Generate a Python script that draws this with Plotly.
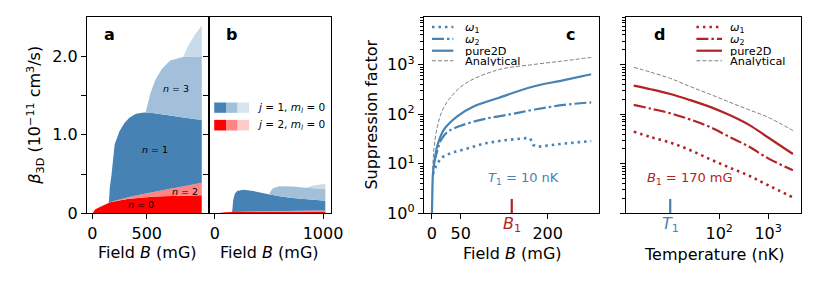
import plotly.graph_objects as go

# Page = 831x296 window; browser body keeps its default 8px margin, so the
# figure is 815x280 and reference pixel (X, Y) maps to figure pixel (X-8, Y-8).
W, H = 815, 280
OFF = 8
def px(x): return (x - OFF) / W
def py(y): return 1 - (y - OFF) / H

FONT = "DejaVu Sans"
BLUE = "#4682b4"
BLUE_MID = "#a2c0da"
BLUE_LIGHT = "#c8dbeb"
RED = "#ff0000"
RED_MID = "#ff8585"
FIRE = "#b22222"
GRAY = "#808080"

# ---------------- panel a : stacked beta_3D (cumulative tops) ----------------
B_a = [0, 25, 50, 100, 150, 153, 160, 175, 190, 205, 250, 295, 340, 400, 475, 490,
       505, 535, 580, 640, 715, 820, 835, 880, 940, 1006]
top_n0_a = [0, 0.048, 0.07, 0.105, 0.135, 0.136, 0.139, 0.145, 0.15, 0.155, 0.167, 0.177, 0.185,
            0.194, 0.204, 0.206, 0.208, 0.211, 0.215, 0.219, 0.223, 0.227, 0.227, 0.228, 0.229, 0.23]
top_n2_a = [0, 0.048, 0.07, 0.105, 0.137, 0.138, 0.142, 0.149, 0.156, 0.162, 0.18, 0.196, 0.21,
            0.228, 0.25, 0.254, 0.258, 0.266, 0.278, 0.294, 0.313, 0.34, 0.344, 0.356, 0.372, 0.39]
top_n1_a = [0, 0.048, 0.07, 0.105, 0.137, 0.16, 0.33, 0.48, 0.68, 0.88, 1.05, 1.15, 1.218,
            1.267, 1.283, 1.285, 1.284, 1.28, 1.273, 1.262, 1.245, 1.225, 1.222, 1.213, 1.202, 1.19]
top_n3_a = [0, 0.048, 0.07, 0.105, 0.137, 0.16, 0.33, 0.48, 0.68, 0.88, 1.05, 1.15, 1.218,
            1.267, 1.283, 1.285, 1.37, 1.535, 1.70, 1.84, 1.945, 1.99, 1.992, 1.995, 1.998, 2.0]
top_n5_a = [0, 0.048, 0.07, 0.105, 0.137, 0.16, 0.33, 0.48, 0.68, 0.88, 1.05, 1.15, 1.218,
            1.267, 1.283, 1.285, 1.37, 1.535, 1.70, 1.84, 1.945, 1.99, 1.992, 2.13, 2.27, 2.39]

# ---------------- panel b ----------------
B_b = [0, 50, 100, 160, 165, 170, 185, 206, 266, 357, 450, 500, 510, 538, 598, 719, 840, 850,
       900, 960, 1021]
top_n0_b = [0, 0.01, 0.014, 0.017, 0.017, 0.017, 0.018, 0.018, 0.019, 0.02, 0.021, 0.021, 0.021,
            0.022, 0.022, 0.023, 0.024, 0.024, 0.024, 0.025, 0.025]
top_n2_b = [0, 0.01, 0.014, 0.018, 0.018, 0.018, 0.019, 0.02, 0.022, 0.025, 0.027, 0.028, 0.028,
            0.029, 0.03, 0.032, 0.034, 0.034, 0.035, 0.036, 0.038]
top_n1_b = [0, 0.01, 0.014, 0.018, 0.1, 0.17, 0.25, 0.284, 0.30, 0.284, 0.255, 0.24, 0.238,
            0.232, 0.218, 0.196, 0.18, 0.179, 0.172, 0.166, 0.161]
top_n3_b = [0, 0.01, 0.014, 0.018, 0.1, 0.17, 0.25, 0.284, 0.30, 0.284, 0.255, 0.24, 0.27,
            0.32, 0.345, 0.343, 0.325, 0.325, 0.322, 0.318, 0.31]
top_n5_b = [0, 0.01, 0.014, 0.018, 0.1, 0.17, 0.25, 0.284, 0.30, 0.284, 0.255, 0.24, 0.27,
            0.32, 0.345, 0.343, 0.325, 0.33, 0.353, 0.365, 0.373]

# ---------------- panel c : suppression factor vs field ----------------
B_w1 = [2, 7.4, 15.7, 33, 61, 90, 124, 163, 170, 175, 183, 228, 275]
S_w1 = [6.2, 9, 13.2, 16.6, 20.4, 25.7, 29.9, 33, 32.4, 24, 22.1, 25.7, 28.8]
B_w2 = [4.5, 10, 15.7, 27, 50, 90, 135, 178, 228, 275]
S_w2 = [11, 19, 30, 44, 59, 80, 100, 125, 155, 174]
B_pure = [0.3, 1, 2, 4.5, 10, 21.5, 44, 73, 115, 172, 228, 275]
S_pure = [1, 2.5, 6.2, 11, 24, 50, 91, 145, 214, 355, 490, 645]
B_an = [0.8, 2, 4.5, 10, 18.7, 33, 58, 115, 172, 228, 275]
S_an = [2.5, 9.8, 24, 59, 123, 224, 420, 794, 1000, 1200, 1410]
B1_mark = 138
T1_label = "10 nK"

# ---------------- panel d : suppression factor vs temperature ----------------
T_d = [1.8, 4, 10, 25, 63, 158, 400, 1000, 3200]
S_d_w1 = [44.7, 34.7, 26.9, 19.1, 12.6, 8.5, 5.8, 3.7, 2.1]
S_d_w2 = [155, 130, 105, 79, 56, 35.5, 22.4, 12.9, 7.4]
S_d_pure = [380, 320, 257, 195, 143, 98, 62, 34, 15.8]
S_d_an = [891, 708, 531, 367, 257, 178, 124, 87, 47]
T1_mark = 10
B1_label = "170 mG"

fig = go.Figure()

def stack(xs, tops, colors, xa, ya):
    for i, (t, c) in enumerate(zip(tops, colors)):
        fig.add_trace(go.Scatter(x=xs, y=t, mode="lines", line=dict(width=0),
                                 fill="tozeroy" if i == 0 else "tonexty", fillcolor=c,
                                 xaxis=xa, yaxis=ya, showlegend=False, hoverinfo="skip"))

cols = [RED, RED_MID, BLUE, BLUE_MID, BLUE_LIGHT]
stack(B_a, [top_n0_a, top_n2_a, top_n1_a, top_n3_a, top_n5_a], cols, "x", "y")
stack(B_b, [top_n0_b, top_n2_b, top_n1_b, top_n3_b, top_n5_b], cols, "x2", "y2")

def line(x, y, color, width, dash, xa, ya, shape="spline"):
    fig.add_trace(go.Scatter(x=x, y=y, mode="lines",
                             line=dict(color=color, width=width, dash=dash, shape=shape),
                             xaxis=xa, yaxis=ya, showlegend=False, hoverinfo="skip"))

DOT = "2.5px,4px"
DASHDOT = "12px,3px,2.5px,3px"
DASH = "4px,2px"

line(B_an, S_an, GRAY, 1, DASH, "x3", "y3")
line(B_w1, S_w1, BLUE, 2.6, DOT, "x3", "y3", shape="linear")
line(B_w2, S_w2, BLUE, 2.2, DASHDOT, "x3", "y3")
line(B_pure, S_pure, BLUE, 2.2, "solid", "x3", "y3")
line([B1_mark, B1_mark], [1, 1.95], FIRE, 2.2, "solid", "x3", "y3", shape="linear")

line(T_d, S_d_an, GRAY, 1, DASH, "x4", "y4")
line(T_d, S_d_w1, FIRE, 2.6, DOT, "x4", "y4")
line(T_d, S_d_w2, FIRE, 2.2, DASHDOT, "x4", "y4")
line(T_d, S_d_pure, FIRE, 2.2, "solid", "x4", "y4")
line([T1_mark, T1_mark], [1, 1.95], BLUE, 2.2, "solid", "x4", "y4", shape="linear")

ax = dict(showline=True, linecolor="black", linewidth=1, mirror=True, ticks="outside",
          ticklen=5, tickwidth=1, tickcolor="black", showgrid=False, zeroline=False,
          tickfont=dict(size=16, color="black", family=FONT), fixedrange=True)
ydom = [py(221), py(17.3)]
half_minor = dict(ticks="outside", ticklen=5, tickwidth=1, tickcolor="black",
                  tickvals=[0.5, 1.5], showgrid=False)
log_minor = dict(ticks="outside", ticklen=2.5, tickwidth=0.8, tickcolor="black",
                 dtick="D1", showgrid=False)

fig.update_layout(
    width=W, height=H, autosize=False,
    margin=dict(l=0, r=0, t=0, b=0),
    paper_bgcolor="white", plot_bgcolor="white",
    font=dict(family=FONT, size=16, color="black"),
    showlegend=False,
    xaxis=dict(ax, domain=[px(88), px(212.3)], range=[-51.2, 1075.2], anchor="y",
               tickvals=[0, 500], ticktext=["0", "500"]),
    yaxis=dict(ax, domain=ydom, range=[0, 2.5], anchor="x",
               tickvals=[0, 1, 2], ticktext=["0", "1.0", "2.0"], minor=half_minor),
    xaxis2=dict(ax, domain=[px(212.3), px(336)], range=[-51.2, 1075.2], anchor="y2",
                tickvals=[0, 1000], ticktext=["0", "1000"]),
    yaxis2=dict(ax, domain=ydom, range=[0, 2.5], anchor="x2",
                tickvals=[0, 1, 2], showticklabels=False, minor=half_minor),
    xaxis3=dict(ax, domain=[px(430), px(608)], range=[-13.75, 288.75], anchor="y3",
                tickvals=[0, 50, 200], ticktext=["0", "50", "200"]),
    yaxis3=dict(ax, type="log", domain=ydom, range=[0, 3.965], anchor="x3",
                tickvals=[1, 10, 100, 1000],
                ticktext=["10<sup>0</sup>", "10<sup>1</sup>", "10<sup>2</sup>", "10<sup>3</sup>"],
                minor=log_minor),
    xaxis4=dict(ax, type="log", domain=[px(635), px(812.7)], range=[0.0925, 3.6675], anchor="y4",
                tickvals=[100, 1000], ticktext=["10<sup>2</sup>", "10<sup>3</sup>"]),
    yaxis4=dict(ax, type="log", domain=ydom, range=[0, 3.965], anchor="x4",
                tickvals=[1, 10, 100, 1000], showticklabels=False, minor=log_minor),
)

ann = []
def A(text, x, y, size=16, color="black", xanchor="center", yanchor="middle", angle=0,
      xref="paper", yref="paper", height=None):
    d = dict(text=text, x=x, y=y, xref=xref, yref=yref, showarrow=False,
             font=dict(size=size, color=color, family=FONT), xanchor=xanchor,
             yanchor=yanchor, textangle=angle, borderpad=0)
    if height:
        d["height"] = height
    ann.append(d)

# axis titles
A("Field <i>B</i> (mG)", px(150), py(262))
A("Field <i>B</i> (mG)", px(273), py(262))
A("Field <i>B</i> (mG)", px(520), py(263))
A("Temperature (nK)", px(725), py(264))
A("<i>β</i><sub>3D</sub> (10<sup>−11</sup> cm<sup>3</sup>/s)", px(35), py(119), angle=-90)
A("Suppression factor", px(376), py(119), angle=-90)

# panel letters
for t, x in [("a", 111), ("b", 235), ("c", 579), ("d", 669)]:
    A("<b>%s</b>" % t, px(x), py(35), size=16)

# n labels in panel a (data coords)
A("<i>n</i> = 3", 767, 1.595, size=9.5, xref="x", yref="y")
A("<i>n</i> = 1", 580, 0.81, size=9.5, xref="x", yref="y")
A("<i>n</i> = 2", 852, 0.279, size=9.5, xref="x", yref="y")
A("<i>n</i> = 0", 444, 0.114, size=9.5, xref="x", yref="y")

# texts in c / d
A("<i>T</i><sub>1</sub> = " + T1_label, 159, 0.70, size=13, color=BLUE, xref="x3", yref="y3")
A("<i>B</i><sub>1</sub> = " + B1_label, 1.40, 0.70, size=13, color=FIRE, xref="x4", yref="y4")
A("<i>B</i><sub>1</sub>", B1_mark, py(233), size=16, color=FIRE, xref="x3")
A("<i>T</i><sub>1</sub>", 1.0, py(233), size=16, color=BLUE, xref="x4")

# manual legends for c and d
shapes = []
leg_rows = [27.7, 40, 52.3, 62.7]
leg_text = ["<i>ω</i><sub>1</sub>", "<i>ω</i><sub>2</sub>", "pure2D", "Analytical"]
leg_style = [(DOT, 2.6), (DASHDOT, 2.2), ("solid", 2.2), (DASH, 1)]
for (x0, x1, xt, col) in [(438.3, 460, 471, BLUE), (706.7, 732.7, 739.3, FIRE)]:
    for i, (r, t, (d, w)) in enumerate(zip(leg_rows, leg_text, leg_style)):
        shapes.append(dict(type="line", xref="paper", yref="paper", x0=px(x0), x1=px(x1),
                           y0=py(r), y1=py(r),
                           line=dict(color=GRAY if i == 3 else col, width=w, dash=d)))
        A(t, px(xt), py(r + (1.5 if i < 2 else 0)), size=11.3, xanchor="left", height=10)

# legend in panel b (colour blocks)
blocks = [(217.3, 229.3), (229.3, 241), (241, 252.7)]
for (y0, y1), colsb in [((106, 116.7), [BLUE, BLUE_MID, "#d6e4f0"]),
                        ((124, 135), [RED, RED_MID, "#ffcaca"])]:
    for (x0, x1), c in zip(blocks, colsb):
        shapes.append(dict(type="rect", xref="paper", yref="paper", x0=px(x0), x1=px(x1),
                           y0=py(y1), y1=py(y0), fillcolor=c, line=dict(width=0)))
A("<i>j</i> = 1, <i>m</i><sub><i>l</i></sub> = 0", px(259.3), py(111.3), size=10.5, xanchor="left")
A("<i>j</i> = 2, <i>m</i><sub><i>l</i></sub> = 0", px(259.3), py(129.5), size=10.5, xanchor="left")

fig.update_layout(annotations=ann, shapes=shapes)
fig.write_html("out.html", config={"displayModeBar": False})
